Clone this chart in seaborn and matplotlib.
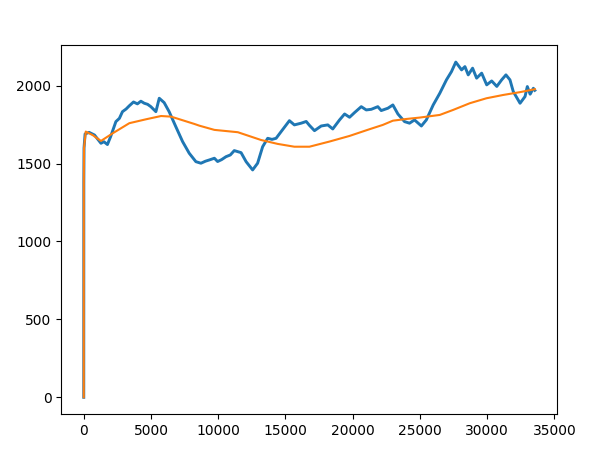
import matplotlib
matplotlib.use('Agg')
import matplotlib.pyplot as plt
import seaborn as sns

# running score (blue)
score_x = [0, 5, 20, 100, 400, 800, 1280, 1500, 1760, 2000, 2390, 2650, 2880, 3150,
           3380, 3700, 3990, 4250, 4500, 4750, 4990, 5365, 5615, 5980, 6350, 6845,
           7350, 7845, 8340, 8715, 9050, 9340, 9715, 9955, 10250, 10580, 10900,
           11195, 11700, 12075, 12560, 12930, 13305, 13680, 14000, 14305, 14680,
           15295, 15665, 16170, 16545, 16785, 17160, 17660, 18150, 18520, 19025,
           19400, 19770, 20140, 20640, 21010, 21385, 21870, 22125, 22620, 22990,
           23365, 23860, 24230, 24600, 25110, 25480, 25990, 26480, 26975, 27350,
           27670, 28100, 28350, 28595, 28920, 29220, 29595, 29970, 30340, 30720,
           31080, 31400, 31700, 31945, 32450, 32820, 32990, 33200, 33440, 33550]
score_y = [0, 1380, 1600, 1690, 1700, 1683, 1630, 1640, 1622, 1673, 1769, 1790, 1833,
           1850, 1870, 1895, 1883, 1900, 1887, 1880, 1865, 1833, 1919, 1891, 1833,
           1737, 1641, 1566, 1512, 1502, 1515, 1523, 1534, 1513, 1525, 1544, 1555,
           1583, 1570, 1512, 1459, 1502, 1608, 1662, 1655, 1662, 1705,
           1775, 1748, 1759, 1770, 1745, 1711, 1741, 1748, 1722, 1780,
           1818, 1797, 1827, 1865, 1844, 1848, 1865, 1840, 1855, 1876,
           1818, 1769, 1759, 1780, 1741, 1780, 1876, 1951, 2037, 2090,
           2151, 2101, 2122, 2069, 2112, 2048, 2080, 2005, 2030, 1995,
           2037, 2069, 2037, 1962, 1887, 1930, 1994, 1945, 1983, 1970]

# average score (orange)
mean_x = [0, 5, 20, 150, 655, 1280, 2150, 3390, 4630, 5750, 6500, 8230, 8600, 9715,
          11460, 13190, 14425, 15665, 16785, 18270, 19760, 21245, 22245, 22990,
          23990, 24990, 26480, 27470, 28710, 29955, 31190, 32435, 33550]
mean_y = [0, 1380, 1600, 1705, 1683, 1645, 1694, 1759, 1784, 1805, 1801, 1754, 1743,
          1716, 1701, 1651, 1626, 1608, 1608, 1641, 1677, 1720, 1748, 1775,
          1786, 1795, 1812, 1844, 1887, 1919, 1940, 1958, 1977]

fig, ax = plt.subplots(figsize=(6, 4.58), dpi=100)
fig.subplots_adjust(left=0.102, right=0.929, top=0.901, bottom=0.096)

sns.lineplot(x=score_x, y=score_y, ax=ax, color='C0', linewidth=2.1)
sns.lineplot(x=mean_x, y=mean_y, ax=ax, color='C1', linewidth=1.5)

fig.savefig('out.png', dpi=100)
